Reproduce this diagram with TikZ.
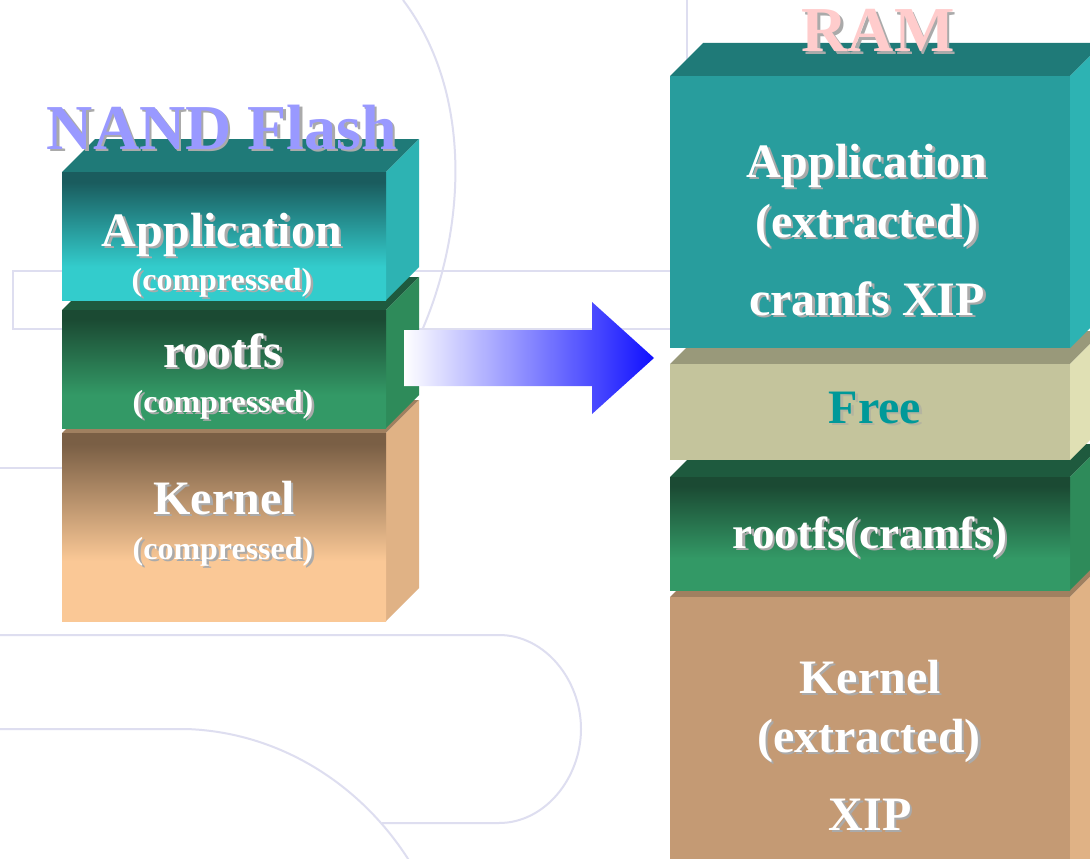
\documentclass[tikz,border=0pt]{standalone}
\usepackage{fontspec}
\setmainfont{Liberation Serif}
\usetikzlibrary{calc}
\definecolor{bgline}{RGB}{222,222,240}
\definecolor{appLt}{RGB}{26,92,94}
\definecolor{appLb}{RGB}{51,204,204}
\definecolor{appTop}{RGB}{31,122,120}
\definecolor{appSide}{RGB}{45,179,179}
\definecolor{appR}{RGB}{40,157,157}
\definecolor{roott}{RGB}{27,74,51}
\definecolor{rootb}{RGB}{51,153,102}
\definecolor{rootTop}{RGB}{30,90,62}
\definecolor{rootSide}{RGB}{46,139,90}
\definecolor{kert}{RGB}{122,95,69}
\definecolor{kerb}{RGB}{250,200,150}
\definecolor{kerTop}{RGB}{160,128,96}
\definecolor{kerSide}{RGB}{224,178,133}
\definecolor{kerR}{RGB}{196,154,116}
\definecolor{freeF}{RGB}{196,196,156}
\definecolor{freeTop}{RGB}{153,153,122}
\definecolor{freeSide}{RGB}{224,224,180}
\definecolor{freeTxt}{RGB}{0,153,153}
\definecolor{freeShd}{RGB}{180,180,160}
\definecolor{arrowblue}{RGB}{16,16,255}
\definecolor{nandc}{RGB}{153,153,255}
\definecolor{ramc}{RGB}{255,204,204}
\definecolor{shd}{RGB}{170,170,170}
\pgfdeclareverticalshading{appLsh}{100bp}{color(0bp)=(appLb); color(38bp)=(appLb); color(71bp)=(appLt); color(100bp)=(appLt)}
\pgfdeclareverticalshading{rootsh}{100bp}{color(0bp)=(rootb); color(39bp)=(rootb); color(71bp)=(roott); color(100bp)=(roott)}
\pgfdeclareverticalshading{kersh}{100bp}{color(0bp)=(kerb); color(41bp)=(kerb); color(72bp)=(kert); color(100bp)=(kert)}
\tikzset{
  bgl/.style={draw=bgline, line width=2pt},
  txt/.style={anchor=base, inner sep=0pt, text=white},
  ttl/.style={font=\fontsize{64}{64}\selectfont\bfseries},
  big/.style={font=\fontsize{48}{48}\selectfont\bfseries},
  mid/.style={font=\fontsize{45}{45}\selectfont\bfseries},
  sml/.style={font=\fontsize{32}{32}\selectfont\bfseries},
}
% drop shadow drawn inside the same text node
\newcommand{\shadowed}[2]{\leavevmode\rlap{\kern2.5pt\raisebox{-2.5pt}[0pt][0pt]{\color{#1}#2}}#2}
% #1 x1, #2 y1 (front top), #3 x2, #4 y2 (front bottom), #5 top colour, #6 side colour, #7 front style
\newcommand{\blockbox}[7]{%
  \fill[#5] (#1,#2) -- (#1+33,#2-33) -- (#3+33,#2-33) -- (#3,#2) -- cycle;
  \fill[#6] (#3,#2) -- (#3+33,#2-33) -- (#3+33,#4-33) -- (#3,#4) -- cycle;
  \path[#7] (#1,#2) rectangle (#3,#4);}
% #1 name, #2 x, #3 y (baseline), #4 style, #5 text
\newcommand{\shtxt}[5]{%
  \node[txt,#4] (#1) at (#2,#3) {\shadowed{shd}{#5}};}
\begin{document}
\begin{tikzpicture}[x=1pt,y=-1pt]
\useasboundingbox (0,0) rectangle (1090,859);
\clip (0,0) rectangle (1090,859);
\fill[white] (0,0) rectangle (1090,859);
% background decoration
\draw[bgl] (403,0) .. controls (475,95) and (465,235) .. (420,335);
\draw[bgl] (700,271) -- (13,271) -- (13,329) -- (700,329);
\draw[bgl] (687,0) -- (687,70);
\draw[bgl] (0,468) -- (100,468);
\draw[bgl] (0,635) -- (499,635) .. controls (545,635) and (581,680) .. (581,729)
  .. controls (581,778) and (545,823) .. (499,823) -- (382,823);
\draw[bgl] (0,729) -- (186,729) .. controls (280,732) and (362,785) .. (410,862);
% left stack (NAND Flash)
\blockbox{62}{433}{386}{621}{kerTop}{kerSide}{shade, shading=kersh}
\blockbox{62}{310}{386}{428}{rootTop}{rootSide}{shade, shading=rootsh}
\blockbox{62}{172}{386}{300}{appTop}{appSide}{shade, shading=appLsh}
% right stack (RAM)
\blockbox{670}{597}{1070}{880}{kerTop}{kerSide}{fill=kerR}
\blockbox{670}{477}{1070}{590}{rootTop}{rootSide}{shade, shading=rootsh}
\blockbox{670}{364}{1070}{460}{freeTop}{freeSide}{fill=freeF}
\blockbox{670}{76}{1070}{348}{appTop}{appSide}{fill=appR}
% arrow
\shade[left color=white, right color=arrowblue]
  (404,330) -- (592,330) -- (592,302) -- (654,358) -- (592,414) -- (592,386) -- (404,386) -- cycle;
% titles
\shtxt{nand}{222}{149}{ttl,text=nandc}{NAND Flash}
\shtxt{ram}{878}{52}{ttl,text=ramc}{RAM}
% left labels
\shtxt{lapp}{222}{246}{big}{Application}
\shtxt{lappc}{222}{290}{sml}{(compressed)}
\shtxt{lroot}{223}{367}{big}{rootfs}
\shtxt{lrootc}{223}{412}{sml}{(compressed)}
\shtxt{lker}{224}{514}{big}{Kernel}
\shtxt{lkerc}{223}{559}{sml}{(compressed)}
% right labels
\shtxt{rapp}{867}{177}{big}{Application}
\shtxt{rappe}{867}{237}{big}{(extracted)}
\shtxt{rxip}{867}{315}{big}{cramfs XIP}
\node[txt,big,text=freeTxt] (rfree) at (875,423) {\shadowed{freeShd}{Free}};
\shtxt{rroot}{870}{548}{mid}{rootfs(cramfs)}
\shtxt{rker}{870}{693}{big}{Kernel}
\shtxt{rkere}{869}{752}{big}{(extracted)}
\shtxt{rkxip}{870}{830}{big}{XIP}
\end{tikzpicture}
\end{document}
